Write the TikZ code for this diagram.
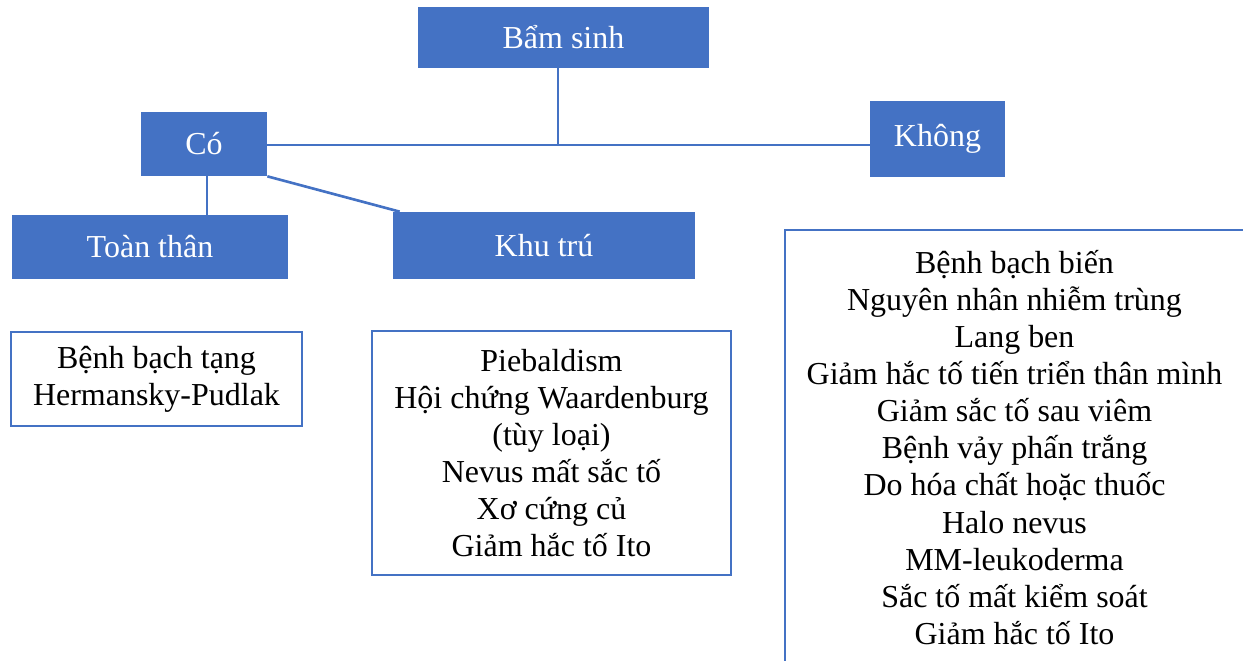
\documentclass[tikz,border=0pt]{standalone}
\usepackage{fontspec}
\setmainfont{Liberation Serif}
\usetikzlibrary{positioning}
\definecolor{office}{HTML}{4472C4}
\tikzset{headbox/.style={fill=office,text=white,inner sep=0pt,font=\fontsize{18.2}{21.1}\selectfont},listbox/.style={draw=office,line width=1.3pt,fill=white,align=center,inner sep=0pt,font=\fontsize{18.2}{21.1}\selectfont},link/.style={draw=office,line width=1.5pt}}

\begin{document}
\begin{tikzpicture}[x=0.02cm,y=-0.02cm]
\useasboundingbox (0,0) rectangle (1243,661);
\clip (0,0) rectangle (1243,661);
% top level
\node[headbox,minimum width=5.82cm,minimum height=1.22cm] (bam) at (563.5,37.5) {Bẩm sinh};
\node[headbox,minimum width=2.52cm,minimum height=1.28cm] (co) at (204,144) {Có};
\node[headbox,minimum width=2.70cm,minimum height=1.52cm] (khong) at (937.5,139) {Không};
\node[headbox,minimum width=5.52cm,minimum height=1.28cm] (toan) at (150,247) {Toàn thân};
\node[headbox,minimum width=6.04cm,minimum height=1.34cm] (khu) at (544,245.5) {Khu trú};
\coordinate (junc) at (558,145);
% lists
\node[listbox,minimum width=5.82cm,minimum height=1.88cm] (listtoan) at (156.5,379) {Bệnh bạch tạng\\Hermansky-Pudlak};
\node[listbox,minimum width=7.18cm,minimum height=4.88cm] (listkhu) at (551.5,453) {Piebaldism\\Hội chứng Waardenburg\\(tùy loại)\\Nevus mất sắc tố\\Xơ cứng củ\\Giảm hắc tố Ito};
\node[listbox,minimum width=9.18cm,minimum height=8.70cm] (listkhong) at (1014.5,447.5) {Bệnh bạch biến\\Nguyên nhân nhiễm trùng\\Lang ben\\Giảm hắc tố tiến triển thân mình\\Giảm sắc tố sau viêm\\Bệnh vảy phấn trắng\\Do hóa chất hoặc thuốc\\Halo nevus\\MM-leukoderma\\Sắc tố mất kiểm soát\\Giảm hắc tố Ito};
% links
\draw[link] (bam.south -| junc) -- (junc);
\draw[link] (co.east |- junc) -- (khong.west |- junc);
\draw[link] ([xshift=0.06cm]co.south) -- ([xshift=0.06cm]co.south |- toan.north);
\draw[link] (co.south east) -- ([xshift=0.14cm]khu.north west);
\end{tikzpicture}
\end{document}
